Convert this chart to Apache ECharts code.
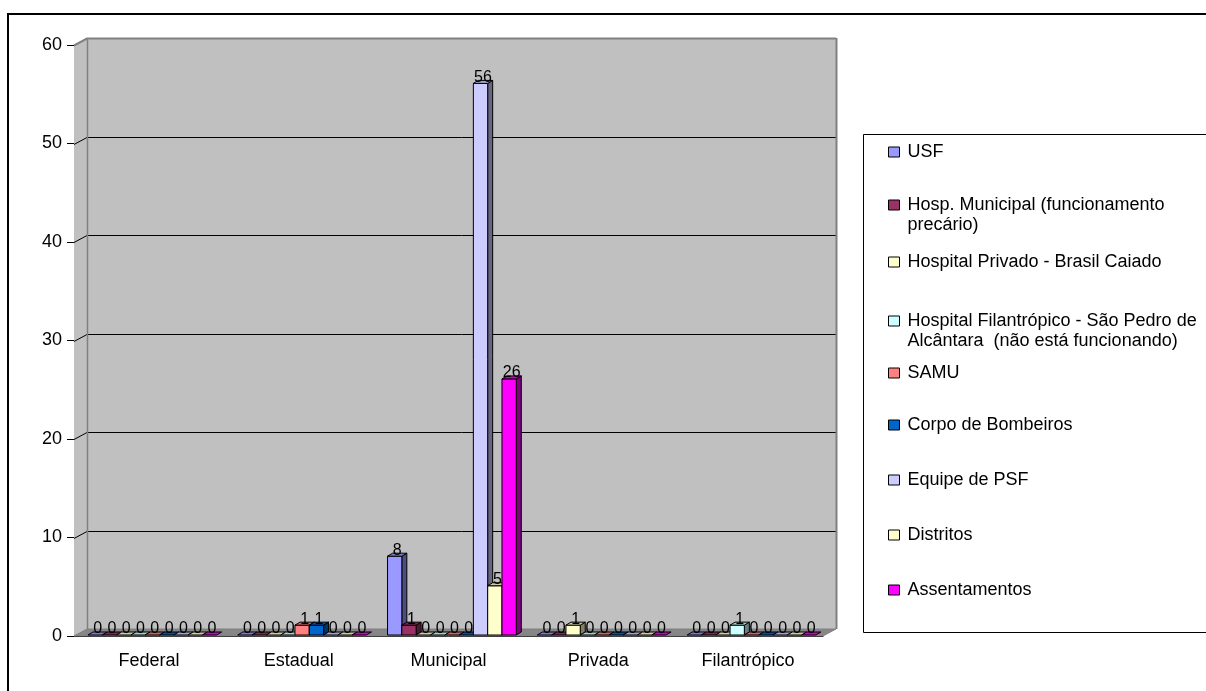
<!DOCTYPE html>
<html>
<head>
<meta charset="utf-8">
<script src="https://cdn.jsdelivr.net/npm/echarts@6/dist/echarts.min.js"></script>
<style>
  html, body { margin: 0; padding: 0; background: #fff; }
  #chart { width: 1206px; height: 691px; }
</style>
</head>
<body>
<div id="chart"></div>
<script>
// Categories (x axis) and tick values (y axis)
const categories = ['Federal', 'Estadual', 'Municipal', 'Privada', 'Filantrópico'];
const yTicks = [0, 10, 20, 30, 40, 50, 60];

// Series names, in legend order
const seriesNames = [
  'USF',
  'Hosp. Municipal (funcionamento\nprecário)',
  'Hospital Privado - Brasil Caiado',
  'Hospital Filantrópico - São Pedro de\nAlcântara  (não está funcionando)',
  'SAMU',
  'Corpo de Bombeiros',
  'Equipe de PSF',
  'Distritos',
  'Assentamentos'
];

// Values per category
const usf              = [0, 0, 8, 0, 0];
const hospMunicipal    = [0, 0, 1, 0, 0];
const hospPrivado      = [0, 0, 0, 1, 0];
const hospFilantropico = [0, 0, 0, 0, 1];
const samu             = [0, 1, 0, 0, 0];
const bombeiros        = [0, 1, 0, 0, 0];
const equipePsf        = [0, 0, 56, 0, 0];
const distritos        = [0, 0, 5, 0, 0];
const assentamentos    = [0, 0, 26, 0, 0];

const seriesValues = [usf, hospMunicipal, hospPrivado, hospFilantropico, samu,
  bombeiros, equipePsf, distritos, assentamentos];

const colors = ['#9999FF', '#993366', '#FFFFCC', '#CCFFFF', '#FF8080',
  '#0066CC', '#CCCCFF', '#FFFFCC', '#FF00FF'];

const FONT = '"Liberation Sans", Arial, sans-serif';

// Wall depth offset (pixels) and bar depth offset
const WDX = 13, WDY = -7;
const BDX = 5, BDY = -3;

function shade(hex, f) {
  const n = parseInt(hex.slice(1), 16);
  const r = Math.round(((n >> 16) & 255) * f);
  const g = Math.round(((n >> 8) & 255) * f);
  const b = Math.round((n & 255) * f);
  return 'rgb(' + r + ',' + g + ',' + b + ')';
}

// Back wall, side wall, floor and gridlines of the 3D plot box
function renderWalls(params, api) {
  const cs = params.coordSys;
  const x = cs.x, y = cs.y, w = cs.width, h = cs.height;
  const children = [];
  children.push({ type: 'polygon', shape: { points: [[x, y + h], [x, y], [x + WDX, y + WDY], [x + WDX, y + h + WDY]] },
    style: { fill: '#c0c0c0', stroke: null } });
  children.push({ type: 'rect', shape: { x: x + WDX, y: y + WDY, width: w, height: h },
    style: { fill: '#c0c0c0', stroke: null } });
  children.push({ type: 'polygon', shape: { points: [[x, y + h], [x + WDX, y + h + WDY], [x + w + WDX, y + h + WDY], [x + w, y + h]] },
    style: { fill: '#868686', stroke: '#808080', lineWidth: 1 } });
  yTicks.forEach(function (v) {
    if (v === 0) return;
    const yy = Math.round(api.coord([0, v])[1]) + 0.5;
    const isTop = v === yTicks[yTicks.length - 1];
    children.push({ type: 'polyline', shape: { points: [[x, yy], [x + WDX, yy + WDY], [x + w + WDX, yy + WDY]] },
      style: { stroke: isTop ? '#808080' : '#000', lineWidth: isTop ? 2 : 1, fill: null } });
  });
  const lx = Math.round(x + WDX) + 0.5;
  const rx = Math.round(x + w + WDX) + 0.5;
  children.push({ type: 'line', shape: { x1: lx, y1: y + WDY, x2: lx, y2: y + h + WDY }, style: { stroke: '#808080', lineWidth: 1.5 } });
  children.push({ type: 'line', shape: { x1: rx, y1: y + WDY, x2: rx, y2: y + h + WDY }, style: { stroke: '#808080', lineWidth: 2 } });
  return { type: 'group', children: children };
}

// One 3D column: front face, side face, top face and value label
function makeBarRenderer(si) {
  return function (params, api) {
    const cat = api.value(0);
    const val = api.value(1);
    const band = api.size([1, 0])[0];
    const center = api.coord([cat, 0]);
    const top = api.coord([cat, val]);
    const bw = band * 0.0955;
    const fl = center[0] - band / 2 + band * 0.093 + si * bw;
    const baseY = center[1] - 1;
    const topY = top[1] - 1;
    const col = colors[si];
    const stroke = { stroke: '#000', lineWidth: 1, lineJoin: 'round' };
    const children = [];
    if (val > 0) {
      children.push({ type: 'polygon', shape: { points: [[fl + bw, baseY], [fl + bw, topY], [fl + bw + BDX, topY + BDY], [fl + bw + BDX, baseY + BDY]] },
        style: Object.assign({ fill: shade(col, 0.5) }, stroke) });
      children.push({ type: 'rect', shape: { x: fl, y: topY, width: bw, height: baseY - topY },
        style: Object.assign({ fill: col }, stroke) });
    }
    children.push({ type: 'polygon', shape: { points: [[fl, topY], [fl + BDX, topY + BDY], [fl + bw + BDX, topY + BDY], [fl + bw, topY]] },
      style: Object.assign({ fill: shade(col, 0.8) }, stroke) });
    children.push({ type: 'text', z2: 10, style: { text: String(val), x: fl + (bw + BDX) / 2, y: topY - 6,
      align: 'center', verticalAlign: 'middle', font: '16px ' + FONT, fill: '#000' } });
    return { type: 'group', children: children };
  };
}

const series = [{
  type: 'custom', name: '__walls', silent: true, z: 1,
  renderItem: renderWalls, data: [[0, 0]]
}];
seriesNames.forEach(function (name, si) {
  series.push({
    type: 'custom', name: name, z: 2 + si,
    itemStyle: { color: colors[si] },
    renderItem: makeBarRenderer(si),
    data: seriesValues[si].map(function (v, ci) { return [ci, v]; })
  });
});

// Legend entries, each placed at its own row; two-line names keep the
// swatch beside their first line
const legendRows = [152, 205, 262, 321, 373, 425, 480, 535, 590];
const legends = seriesNames.map(function (name, i) {
  const twoLine = name.indexOf('\n') >= 0;
  return {
    data: [name], orient: 'vertical', left: 888,
    top: twoLine ? legendRows[i] - 30 : legendRows[i] - 10,
    padding: 0, itemWidth: 11, itemHeight: 10, icon: 'rect', selectedMode: false,
    formatter: twoLine ? function (n) { return '\n' + n; } : '{name}',
    itemStyle: { borderColor: '#000', borderWidth: 1 },
    textStyle: { fontSize: 18, fontFamily: FONT, color: '#000', lineHeight: 20,
      padding: [0, 0, 0, 3] }
  };
});

const chart = echarts.init(document.getElementById('chart'));
chart.setOption({
  animation: false,
  backgroundColor: '#fff',
  graphic: [
    { type: 'rect', z: -10, shape: { x: 8, y: 14, width: 1220, height: 700 }, style: { fill: null, stroke: '#000', lineWidth: 2 } },
    { type: 'rect', z: -5, shape: { x: 863.5, y: 134.5, width: 400, height: 498 }, style: { fill: '#fff', stroke: '#000', lineWidth: 1 } }
  ],
  legend: legends,
  grid: { left: 74, right: 383, top: 45, bottom: 55 },
  xAxis: {
    type: 'category', data: categories,
    axisLine: { lineStyle: { color: '#000', width: 1 } },
    axisTick: { length: 8, lineStyle: { color: '#808080' } },
    axisLabel: { fontSize: 18, fontFamily: FONT, color: '#000', margin: 16 },
    splitLine: { show: false }
  },
  yAxis: {
    type: 'value', min: 0, max: 60, interval: 10,
    axisLine: { show: true, lineStyle: { color: '#000', width: 1 } },
    axisTick: { show: true, length: 7, lineStyle: { color: '#000' } },
    axisLabel: { fontSize: 18, fontFamily: FONT, color: '#000', margin: 12 },
    splitLine: { show: false }
  },
  series: series
});
</script>
</body>
</html>
